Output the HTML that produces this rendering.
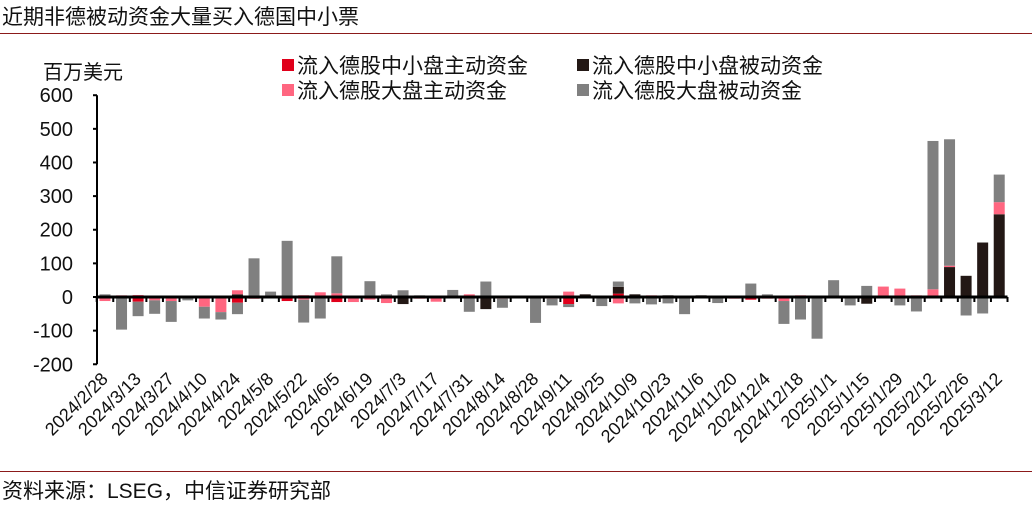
<!DOCTYPE html>
<html><head><meta charset="utf-8"><style>
body{margin:0;background:#fff;width:1032px;height:505px;overflow:hidden;font-family:"Liberation Sans","Noto Sans CJK SC",sans-serif}
svg text{font-family:"Liberation Sans","Noto Sans CJK SC",sans-serif}
</style></head><body>
<svg id="chart" width="1032" height="505">
<text x="2" y="24" font-size="21" fill="#111">近期非德被动资金大量买入德国中小票</text>
<line x1="0" y1="33.5" x2="1032" y2="33.5" stroke="#8b1a1a" stroke-width="1"/>
<text x="43" y="79" font-size="20" fill="#111">百万美元</text>
<g>
<rect x="282" y="59" width="12" height="12" fill="#e0001b"/>
<text x="297" y="73" font-size="21" fill="#111">流入德股中小盘主动资金</text>
<rect x="282" y="84" width="12" height="12" fill="#ff6680"/>
<text x="297" y="98" font-size="21" fill="#111">流入德股大盘主动资金</text>
<rect x="577" y="59" width="12" height="12" fill="#231815"/>
<text x="592" y="73" font-size="21" fill="#111">流入德股中小盘被动资金</text>
<rect x="577" y="84" width="12" height="12" fill="#808080"/>
<text x="592" y="98" font-size="21" fill="#111">流入德股大盘被动资金</text>
</g>
<g id="plot"></g>
<line x1="0" y1="471.5" x2="1032" y2="471.5" stroke="#8b1a1a" stroke-width="1"/>
<text x="2" y="498" font-size="21" fill="#111">资料来源：LSEG，中信证券研究部</text>
</svg>
<script>
const yTicks=[600,500,400,300,200,100,0,-100,-200];
const labelDates=["2024/2/28","2024/3/13","2024/3/27","2024/4/10","2024/4/24","2024/5/8","2024/5/22","2024/6/5","2024/6/19","2024/7/3","2024/7/17","2024/7/31","2024/8/14","2024/8/28","2024/9/11","2024/9/25","2024/10/9","2024/10/23","2024/11/6","2024/11/20","2024/12/4","2024/12/18","2025/1/1","2025/1/15","2025/1/29","2025/2/12","2025/2/26","2025/3/12"];
const smallActive=[0,0,-14,0,0,0,0,0,-17,-5,0,-12,5,0,-15,0,0,0,0,0,0,0,0,0,0,0,0,0,-21,0,0,10,0,0,0,0,0,0,0,-8,0,0,0,0,0,0,0,3,0,0,0,0,0,0,0];
const smallPassive=[0,0,0,0,0,0,0,0,8,0,0,0,0,0,0,0,0,0,-21,0,0,0,0,-36,0,0,0,0,0,8,0,20,8,0,5,0,5,0,0,0,0,0,0,0,0,0,-20,0,0,0,0,89,63,162,246];
const largeActive=[-12,5,6,-10,-12,0,-29,-45,12,0,0,0,-8,14,11,-15,-8,-18,0,-5,-14,0,8,0,-5,0,0,-5,16,-3,0,-19,0,5,0,0,0,-3,-5,0,-5,-12,5,0,0,0,0,28,25,5,23,4,0,0,36];
const largePassive=[8,-97,-43,-40,-62,-10,-35,-22,-34,115,16,167,-68,-64,110,3,47,8,20,5,0,21,-44,46,-27,0,-77,-20,-9,0,-27,16,-19,-22,-19,-51,0,-15,4,40,8,-68,-67,-124,50,-25,33,0,-25,-43,441,376,-55,-49,82];
const series=[[smallActive,"#e0001b","small-active"],[smallPassive,"#231815","small-passive"],[largeActive,"#ff6680","large-active"],[largePassive,"#808080","large-passive"]];
const N=largePassive.length, x0=96.7, x1=1007.5, step=(x1-x0)/N;
const y=v=>297-v*0.3363;
const xc=i=>x0+step*(i+0.5);
const g=document.getElementById('plot'), NS="http://www.w3.org/2000/svg";
function mk(t,a){const e=document.createElementNS(NS,t);for(const k in a)e.setAttribute(k,a[k]);g.appendChild(e);return e;}
for(let i=0;i<N;i++){let pos=0,neg=0;
 for(const [arr,col,nm] of series){const v=arr[i];if(!v)continue;
  let top,bot;if(v>0){top=pos+v;bot=pos;pos=top;}else{top=neg;bot=neg+v;neg=bot;}
  const r=mk('rect',{x:xc(i)-5.5,y:y(top),width:11,height:y(bot)-y(top),fill:col});
  
  }}
const ax=mk('line',{x1:97,y1:y(600),x2:97,y2:y(-200),stroke:'#000','stroke-width':2});


for(const t of yTicks){const tk=mk('line',{x1:93,x2:97,y1:y(t),y2:y(t),stroke:'#000','stroke-width':2});
 
 
 const tx=mk('text',{x:73,y:y(t)+7,'font-size':20,'text-anchor':'end',fill:'#111'});tx.textContent=t;
 
 }
const zl=mk('line',{x1:97,x2:x1,y1:y(0),y2:y(0),stroke:'#000','stroke-width':3});


for(let i=0;i<=N;i++){const tk=mk('line',{x1:x0+step*i,x2:x0+step*i,y1:y(0),y2:y(0)+5,stroke:'#000','stroke-width':2});
 
 }
labelDates.forEach((d,k)=>{const i=k*2,cx=xc(i)+4,cy=380;
 const tx=mk('text',{x:cx,y:cy,'font-size':18,'text-anchor':'end',fill:'#111',transform:`rotate(-45 ${cx} ${cy})`});tx.textContent=d;
 
 });
</script>
</body></html>
